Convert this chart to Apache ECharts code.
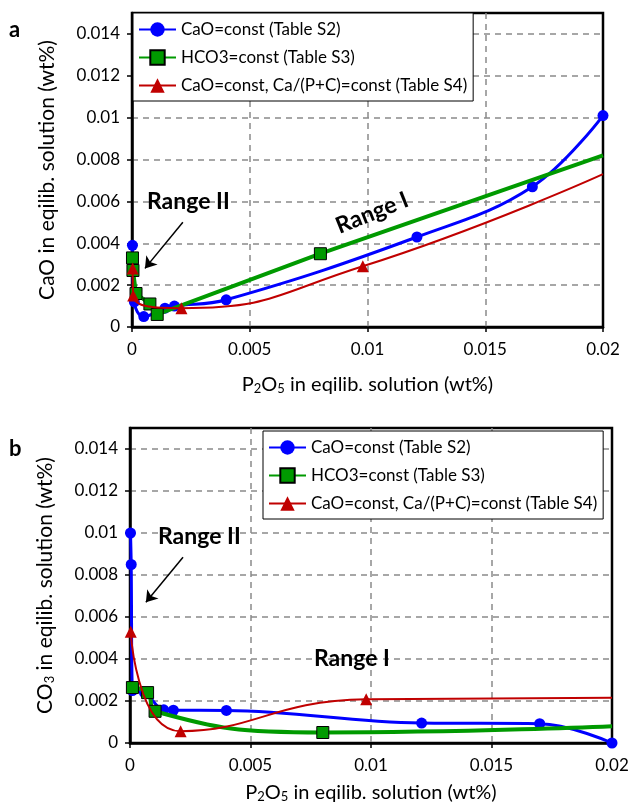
<!DOCTYPE html>
<html>
<head>
<meta charset="utf-8">
<script src="https://cdn.jsdelivr.net/npm/echarts@6/dist/echarts.min.js"></script>
<style>
  html, body { margin: 0; padding: 0; background: #fff; }
  #chart { width: 632px; height: 805px; }
</style>
</head>
<body>
<div id="chart"></div>
<script>
// series names (legend)
var names = ['CaO=const (Table S2)', 'HCO3=const (Table S3)', 'CaO=const, Ca/(P+C)=const (Table S4)'];
var xTicks = [0, 0.005, 0.01, 0.015, 0.02];
var yTicks = [0, 0.002, 0.004, 0.006, 0.008, 0.01, 0.012, 0.014];

// panel a: CaO vs P2O5 [x, y]
var caoBlue = [[0.00002, 0.0039], [0.0001, 0.0012], [0.0005, 0.0005], [0.0014, 0.0009], [0.0018, 0.001], [0.004, 0.0013], [0.0121, 0.0043], [0.017, 0.0067], [0.02, 0.0101]];
var caoGreen = [[0.00002, 0.0033], [0.00004, 0.0027], [0.00017, 0.0016], [0.00076, 0.0011], [0.00107, 0.0006], [0.008, 0.0035]];
var caoGreenTail = [[0.02, 0.0082]];
var caoRed = [[0.00003, 0.0028], [0.00005, 0.0015], [0.0021, 0.0009], [0.0098, 0.0029]];
var caoRedTail = [[0.02, 0.0073]];

// panel b: CO3 vs P2O5 [x, y]
var co3Blue = [[0.00002, 0.01], [0.00005, 0.0085], [0.0001, 0.0025], [0.0006, 0.0024], [0.0014, 0.00158], [0.0018, 0.00156], [0.004, 0.00155], [0.0121, 0.00095], [0.017, 0.00092], [0.02, 0]];
var co3Green = [[0.0001, 0.00264], [0.00073, 0.0024], [0.00104, 0.00151], [0.008, 0.0005]];
var co3GreenTail = [[0.02, 0.0008]];
var co3Red = [[0.00003, 0.0053], [0.0021, 0.00056], [0.0098, 0.00208]];
var co3RedTail = [[0.02, 0.00215]];

var FONT = 'Lato';
var chart = echarts.init(document.getElementById('chart'));

function withTail(pts, tail) {
  return pts.concat((tail || []).map(function (p) { return { value: p, symbol: 'none' }; }));
}

var gridLine = { show: true, showMinLine: false, showMaxLine: false, lineStyle: { color: '#8a8a8a', width: 1.5, type: [6, 5] } };

function xAxis(idx, gap) {
  return {
    type: 'value', gridIndex: idx, min: 0, max: 0.02, interval: 0.005,
    name: 'P{s|2}O{s|5} in eqilib. solution (wt%)', nameLocation: 'middle', nameGap: gap,
    nameTextStyle: { fontFamily: FONT, fontSize: 20, color: '#000', rich: { s: { fontFamily: FONT, fontSize: 13, color: '#000', padding: [7, 0, 0, 0] } } },
    axisLine: { onZero: false, lineStyle: { color: '#000', width: 2.5 } },
    axisTick: { show: true, inside: false, length: 5, lineStyle: { color: '#000', width: 1.5 } },
    axisLabel: { fontFamily: FONT, fontSize: 17, color: '#000', margin: 14 },
    splitLine: gridLine
  };
}

function yAxis(idx, name) {
  return {
    type: 'value', gridIndex: idx, min: 0, max: 0.015, interval: 0.002,
    name: name, nameLocation: 'middle', nameGap: 74,
    nameTextStyle: { fontFamily: FONT, fontSize: 21, color: '#000', rich: { s: { fontFamily: FONT, fontSize: 13, color: '#000', padding: [8, 0, 0, 0] } } },
    axisLine: { onZero: false, lineStyle: { color: '#000', width: 2.5 } },
    axisTick: { show: true, inside: false, length: 5, lineStyle: { color: '#000', width: 1.5 } },
    axisLabel: {
      fontFamily: FONT, fontSize: 17, color: '#000', margin: 12, showMaxLabel: false,
      formatter: function (v) {
        for (var i = 0; i < yTicks.length; i++) if (Math.abs(yTicks[i] - v) < 1e-9) return String(yTicks[i]);
        return '';
      }
    },
    splitLine: gridLine
  };
}

function blue(idx, data) {
  return {
    name: names[0], type: 'line', xAxisIndex: idx, yAxisIndex: idx, data: data, smooth: 0.4,
    symbol: 'circle', symbolSize: 11, z: 3,
    lineStyle: { color: '#0000ff', width: 3 }, itemStyle: { color: '#0000ff' }
  };
}
function green(idx, data, smooth) {
  return {
    name: names[1], type: 'line', xAxisIndex: idx, yAxisIndex: idx, data: data, smooth: smooth,
    symbol: 'rect', symbolSize: 12, z: 4,
    lineStyle: { color: '#009a00', width: 4 }, itemStyle: { color: '#009a00', borderColor: '#000', borderWidth: 1 }
  };
}
function red(idx, data, arrow) {
  return {
    name: names[2], type: 'line', xAxisIndex: idx, yAxisIndex: idx, data: data, smooth: 0.5,
    symbol: 'triangle', symbolSize: 12, z: 5,
    lineStyle: { color: '#c00000', width: 2 }, itemStyle: { color: '#c00000' },
    markLine: {
      silent: true, animation: false, symbol: ['none', 'arrow'], symbolSize: 11,
      label: { show: false }, lineStyle: { color: '#000', width: 1.5, type: 'solid' },
      itemStyle: { color: '#000' },
      data: [[{ coord: arrow[0] }, { coord: arrow[1] }]]
    }
  };
}

function legend(left, top) {
  return {
    data: names, orient: 'vertical', left: left, top: top,
    backgroundColor: '#fff', borderColor: '#000', borderWidth: 1,
    padding: [8, 6, 7, 5], itemGap: 11, itemWidth: 37, itemHeight: 18,
    textStyle: { fontFamily: FONT, fontSize: 17, color: '#000' }
  };
}

var option = {
  animation: false,
  backgroundColor: '#fff',
  grid: [
    { left: 132, right: 29, top: 13, bottom: 478, show: true, borderColor: '#000', borderWidth: 2.5 },
    { left: 130, right: 20, top: 428, bottom: 62, show: true, borderColor: '#000', borderWidth: 2.5 }
  ],
  xAxis: [xAxis(0, 48), xAxis(1, 40)],
  yAxis: [yAxis(0, 'CaO in eqilib. solution (wt%)'), yAxis(1, 'CO{s|3} in eqilib. solution (wt%)')],
  legend: [legend(133, 13), legend(263, 431)],
  series: [
    blue(0, caoBlue),
    green(0, withTail(caoGreen, caoGreenTail), false),
    red(0, withTail(caoRed, caoRedTail), [[0.00216, 0.005], [0.00055, 0.0028]]),
    blue(1, co3Blue),
    green(1, withTail(co3Green, co3GreenTail), 0.5),
    red(1, withTail(co3Red, co3RedTail), [[0.0022, 0.00885], [0.00066, 0.0067]])
  ],
  graphic: [
    { type: 'text', left: 9, top: 19, style: { text: 'a', font: 'bold 22px ' + FONT, fill: '#000' } },
    { type: 'text', left: 9, top: 438, style: { text: 'b', font: 'bold 22px ' + FONT, fill: '#000' } },
    { type: 'text', left: 147, top: 190, z: 10, style: { text: 'Range II', font: 'bold 23px ' + FONT, fill: '#000' } },
    { type: 'text', x: 372, y: 213, rotation: 0.38, z: 10, style: { text: 'Range I', font: 'bold 23px ' + FONT, fill: '#000', align: 'center', verticalAlign: 'middle' } },
    { type: 'text', left: 158, top: 525, z: 10, style: { text: 'Range II', font: 'bold 23px ' + FONT, fill: '#000' } },
    { type: 'text', left: 314, top: 647, z: 10, style: { text: 'Range I', font: 'bold 23px ' + FONT, fill: '#000' } }
  ]
};
chart.setOption(option);
</script>
</body>
</html>
